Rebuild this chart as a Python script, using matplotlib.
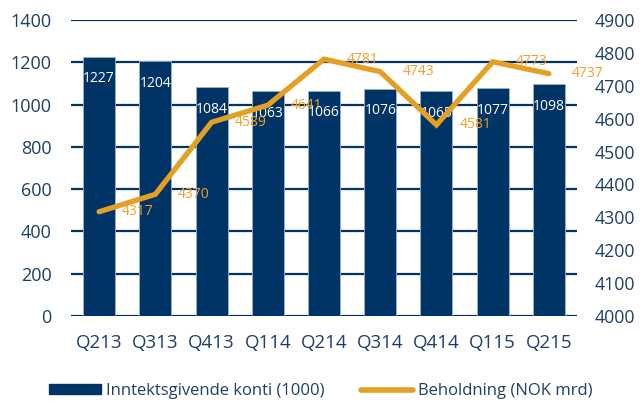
import matplotlib
matplotlib.use("Agg")
import matplotlib.pyplot as plt
from matplotlib.lines import Line2D
from matplotlib.patches import Patch

categories = ["Q213", "Q313", "Q413", "Q114", "Q214", "Q314", "Q414", "Q115", "Q215"]
konti = [1227, 1204, 1084, 1063, 1066, 1076, 1065, 1077, 1098]
beholdning = [4317, 4370, 4589, 4641, 4781, 4743, 4581, 4773, 4737]
left_ticks = [0, 200, 400, 600, 800, 1000, 1200, 1400]
right_ticks = [4000, 4100, 4200, 4300, 4400, 4500, 4600, 4700, 4800, 4900]

NAVY = "#003366"
ORANGE = "#E3A024"
LABEL_OR = "#F4A028"
TXT = "#1F3F66"

plt.rcParams['font.family'] = ['Open Sans', 'DejaVu Sans']

fig = plt.figure(figsize=(6.41, 4.01), dpi=100)
ax = fig.add_axes([71/641, 1-316/401, (577-71)/641, 296/401])
ax2 = ax.twinx()

x = list(range(len(categories)))
ax.bar(x, konti, width=0.57, color=NAVY, edgecolor="#9FB3C8", linewidth=0.6, zorder=2)
ax.set_xlim(-0.5, len(categories) - 0.5)
ax.set_ylim(0, 1400)
ax.set_yticks(left_ticks)
ax.yaxis.grid(True, color=NAVY, linewidth=1.6, zorder=1)
ax.set_axisbelow(True)
for s in ax.spines.values():
    s.set_visible(False)
for s in ax2.spines.values():
    s.set_visible(False)
ax.tick_params(axis='y', length=0, pad=14, labelsize=13, labelcolor=TXT)
ax.tick_params(axis='x', length=0, pad=13, labelsize=13.5, labelcolor=TXT)
ax.set_xticks(x)
ax.set_xticklabels(categories)

for xi, v in zip(x, konti):
    ax.annotate(str(v), (xi, v), xytext=(0, -16), textcoords='offset points',
                ha='center', va='center', color='white', fontsize=10, zorder=5)

ax2.plot(x, beholdning, color=ORANGE, linewidth=3.8, solid_capstyle='round',
         solid_joinstyle='miter', zorder=4)
ax2.set_ylim(4000, 4900)
ax2.set_yticks(right_ticks)
ax2.tick_params(axis='y', length=0, pad=13, labelsize=12.8, labelcolor=TXT)
for xi, v in zip(x, beholdning):
    ax2.annotate(str(v), (xi, v), xytext=(16.5, 0), textcoords='offset points',
                 ha='left', va='center', color=LABEL_OR, fontsize=10, zorder=6)

handles = [Patch(facecolor=NAVY, edgecolor=NAVY),
           Line2D([0], [0], color=ORANGE, linewidth=4, solid_capstyle='round')]
fig.legend(handles, ["Inntektsgivende konti (1000)", "Beholdning (NOK mrd)"],
           loc='center', bbox_to_anchor=(0.5, 1-391/401), ncol=2, frameon=False,
           fontsize=12, labelcolor=TXT, handlelength=3.1, handleheight=0.55,
           handletextpad=0.3, columnspacing=2.2)

fig.savefig("out.png", dpi=100)
